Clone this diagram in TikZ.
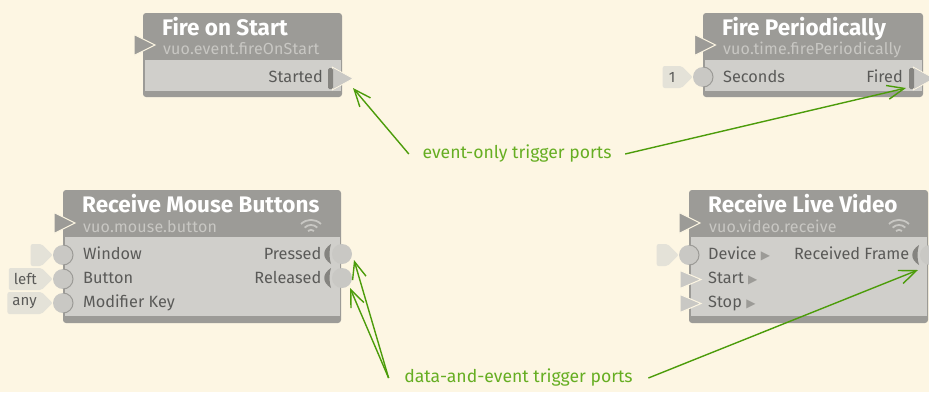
\documentclass[tikz,border=0pt]{standalone}
\usepackage{fontspec}
\setmainfont{Fira Sans}
\newfontfamily\symfont{DejaVu Sans}
\usepackage{tikz}
\usetikzlibrary{arrows.meta,calc,shapes.geometric,shapes.symbols}

\definecolor{paper}{HTML}{FDF6E3}
\definecolor{titlegray}{HTML}{9C9B97}
\definecolor{bodygray}{HTML}{D0CFCB}
\definecolor{portgray}{HTML}{C9C8C4}
\definecolor{flaggray}{HTML}{E4E2D8}
\definecolor{inkgray}{HTML}{5A5A58}
\definecolor{subgray}{HTML}{C8C7C3}
\definecolor{arrowgreen}{HTML}{4C9C0A}
\definecolor{labelgreen}{HTML}{66AE22}

\tikzset{
  nodeshell/.style={rectangle,rounded corners=3pt,fill=titlegray,anchor=north west,inner sep=0pt,outer sep=0pt},
  nodebody/.style={rectangle,fill=bodygray,anchor=north west,inner sep=0pt,outer sep=0pt},
  nodetitle/.style={anchor=base west,inner sep=0pt,text=white,font=\fontsize{22.5}{22.5}\selectfont\bfseries},
  nodeclass/.style={anchor=base west,inner sep=0pt,text=subgray,font=\fontsize{16}{16}\selectfont\addfontfeature{LetterSpace=1}},
  portin/.style={anchor=base west,inner sep=0pt,text=inkgray,font=\fontsize{16.3}{16.3}\selectfont},
  portout/.style={anchor=base east,inner sep=0pt,text=inkgray,font=\fontsize{16.3}{16.3}\selectfont},
  refreshport/.style={isosceles triangle,isosceles triangle stretches,isosceles triangle apex angle=90,
    minimum width=21pt,minimum height=21pt,inner sep=0pt,outer sep=0pt,fill=titlegray,draw=paper,line width=1pt},
  eventport/.style={refreshport,fill=portgray,minimum width=18pt},
  triggerport/.style={eventport,minimum width=23pt,line width=.8pt},
  dataport/.style={circle,fill=portgray,minimum size=20pt,inner sep=0pt,outer sep=0pt},
  constflag/.style={signal,signal to=east,signal from=nowhere,rounded corners=2pt,fill=flaggray,text=inkgray,
    minimum height=22pt,inner sep=0pt,inner xsep=5pt,anchor=east,font=\fontsize{15}{15}\selectfont},
  triggerbar/.style={rectangle,rounded corners=1.5pt,fill=titlegray!85!black,minimum width=5pt,minimum height=21pt,inner sep=0pt},
  rim/.style={draw=titlegray,line width=1pt},
  wifi/.style={draw=subgray,line width=1.8pt},
  callout/.style={text=labelgreen,font=\fontsize{17.6}{17.6}\selectfont},
  pointer/.style={draw=arrowgreen,line width=1.4pt,-{Straight Barb[length=17pt,width=14pt]}}
}
\newcommand{\crescent}[1]{\fill[titlegray!85!black] ($(#1)+(-11,-10)$) .. controls ($(#1)+(-20,-4)$) and ($(#1)+(-20,4)$) .. ($(#1)+(-11,10)$)
  .. controls ($(#1)+(-13,4)$) and ($(#1)+(-13,-4)$) .. cycle;}
\newcommand{\wifiicon}[1]{\draw[wifi] ($(#1)+(-10,-10)$) arc[start angle=135,end angle=45,radius=14.1pt];
  \draw[wifi] ($(#1)+(-6.4,-6.4)$) arc[start angle=135,end angle=45,radius=9pt];
  \draw[wifi] ($(#1)+(-3,-3)$) arc[start angle=135,end angle=45,radius=4.2pt];}
\newcommand{\tinyarrow}{{\symfont\fontsize{12}{12}\selectfont\textcolor{titlegray}{▶}}}

\begin{document}
\begin{tikzpicture}[x=1pt,y=-1pt,node distance=24pt]

    \useasboundingbox (0,0) rectangle (929,392);
    \fill[paper] (0,0) rectangle (929,392);

    % fire on start
    \node[nodeshell,minimum width=199pt,minimum height=84pt] (start-shell) at (143,13) {};
    \node[nodebody,minimum width=196pt,minimum height=31pt] (start-body) at (144.5,60) {};
    \node[refreshport] (start-refresh) at (140.5,45) {};
    \node[triggerport] (start-started) at (339,78.5) {};
    \node[triggerbar] (start-bar) at (330.5,78.5) {};
    \node[nodetitle] (start-title) at (162,35) {Fire on Start};
    \node[nodeclass] (start-class) at (163,54) {vuo.event.fireOnStart};
    \node[portout] (start-label) at (323,82.5) {Started};

    % fire periodically
    \node[nodeshell,minimum width=220pt,minimum height=84pt] (periodic-shell) at (703,13) {};
    \node[nodebody,minimum width=217pt,minimum height=31pt] (periodic-body) at (704.5,60) {};
    \node[refreshport] (periodic-refresh) at (701,45) {};
    \node[dataport] (periodic-seconds) at (703,77) {};
    \draw[rim] (periodic-seconds.north) arc[start angle=90,end angle=-90,radius=10pt];
    \node[constflag,minimum width=30pt] (periodic-const) at (693,77) {1};
    \node[triggerport] (periodic-fired) at (920,78.5) {};
    \node[triggerbar] (periodic-bar) at (911.5,78.5) {};
    \node[nodetitle] (periodic-title) at (722,35) {Fire Periodically};
    \node[nodeclass] (periodic-class) at (723,54) {vuo.time.firePeriodically};
    \node[portin] (periodic-label) at (723,82.5) {Seconds};
    \node[portout] (periodic-out) at (903,82.5) {Fired};

    % receive mouse buttons
    \node[nodeshell,minimum width=278pt,minimum height=133pt] (mouse-shell) at (63,190) {};
    \node[nodebody,minimum width=275pt,minimum height=79pt] (mouse-body) at (64.5,237) {};
    \node[refreshport] (mouse-refresh) at (60.5,223) {};
    \node[dataport] (mouse-window) at (63,255) {};
    \node[dataport] (mouse-button) [below of=mouse-window] {};
    \node[dataport] (mouse-modifier) [below of=mouse-button] {};
    \draw[rim] (mouse-window.north) arc[start angle=90,end angle=-90,radius=10pt];
    \draw[rim] (mouse-button.north) arc[start angle=90,end angle=-90,radius=10pt];
    \draw[rim] (mouse-modifier.north) arc[start angle=90,end angle=-90,radius=10pt];
    \node[constflag,minimum width=22pt] (mouse-const-w) at (53,255) {};
    \node[constflag] (mouse-const-b) at (53,279) {left};
    \node[constflag] (mouse-const-m) at (53,303) {any};
    \node[dataport] (mouse-pressed) at (342,254) {};
    \node[dataport] (mouse-released) [below of=mouse-pressed] {};
    \crescent{mouse-pressed}
    \crescent{mouse-released}
    \node[nodetitle] (mouse-title) at (82,212) {Receive Mouse Buttons};
    \node[nodeclass] (mouse-class) at (83,232) {vuo.mouse.button};
    \coordinate (mouse-wifi) at (311,234);
    \wifiicon{mouse-wifi}
    \node[portin] (mouse-l1) at (83,259.5) {Window};
    \node[portin] (mouse-l2) at (83,283.5) {Button};
    \node[portin] (mouse-l3) at (83,307.5) {Modifier Key};
    \node[portout] (mouse-r1) at (321.5,259.5) {Pressed};
    \node[portout] (mouse-r2) at (321.5,283.5) {Released};

    % receive live video
    \node[nodeshell,minimum width=239pt,minimum height=133pt] (video-shell) at (689,190) {};
    \node[nodebody,minimum width=236pt,minimum height=79pt] (video-body) at (690.5,237) {};
    \node[refreshport] (video-refresh) at (685.5,223) {};
    \node[dataport] (video-device) at (689,255) {};
    \draw[rim] (video-device.north) arc[start angle=90,end angle=-90,radius=10pt];
    \node[constflag,minimum width=22pt] (video-const) at (679,255) {};
    \node[eventport] (video-start) at (686,279.5) {};
    \node[eventport] (video-stop) [below of=video-start] {};
    \node[dataport] (video-frame) at (930,255) {};
    \crescent{video-frame}
    \node[nodetitle] (video-title) at (708,212) {Receive Live Video};
    \node[nodeclass] (video-class) at (709,232) {vuo.video.receive};
    \coordinate (video-wifi) at (899,234);
    \wifiicon{video-wifi}
    \node[portin] (video-l1) at (708,259.5) {Device \tinyarrow};
    \node[portin] (video-l2) at (708,283.5) {Start \tinyarrow};
    \node[portin] (video-l3) at (708,307.5) {Stop \tinyarrow};
    \node[portout] (video-r1) at (909.5,259.5) {Received Frame};

    % callouts
    \node[callout,inner xsep=13.5pt] (event-note) at (517,154) {event-only trigger ports};
    \node[callout,inner xsep=15.5pt] (data-note) at (518.5,378) {data-and-event trigger ports};
    \coordinate (started-tip) at (353,88);
    \coordinate (fired-tip) at (906,88);
    \coordinate (pressed-tip) at (354,260);
    \coordinate (released-tip) at (350,288);
    \coordinate (frame-tip) at (918,270);

    \path[pointer] (event-note.west) -- (started-tip);
    \path[pointer] (event-note.east) -- (fired-tip);
    \path[pointer] (data-note.west) -- (pressed-tip);
    \path[pointer] (data-note.west) -- (released-tip);
    \path[pointer] (data-note.east) -- (frame-tip);

\end{tikzpicture}
\end{document}
